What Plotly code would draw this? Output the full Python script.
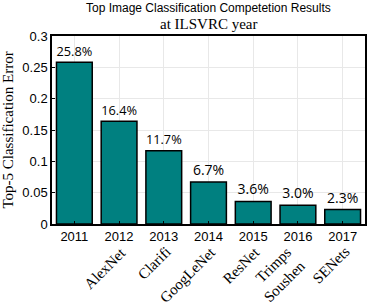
import plotly.graph_objects as go

years = ["2011", "2012", "2013", "2014", "2015", "2016", "2017"]
models = ["", "AlexNet", "Clarifi", "GoogLeNet", "ResNet", "Trimps<br>Soushen", "SENets"]
errors = [0.258, 0.164, 0.117, 0.067, 0.036, 0.030, 0.023]
labels = ["25.8%", "16.4%", "11.7%", "6.7%", "3.6%", "3.0%", "2.3%"]
yticks = [0, 0.05, 0.1, 0.15, 0.2, 0.25, 0.3]
yticktext = ["0", "0.05", "0.1", "0.15", "0.2", "0.25", "0.3"]

fig = go.Figure()
fig.add_trace(go.Bar(
    x=years, y=errors, text=labels, textposition="outside",
    textfont=dict(family="Open Sans", size=14, color="black"),
    marker=dict(color="#008080", line=dict(color="black", width=1.5)),
    width=0.8, cliponaxis=False,
))

annotations = [
    dict(text="Top Image Classification Competetion Results", x=0.5, y=1, xref="paper", yref="paper",
         yshift=28, showarrow=False, xanchor="center", yanchor="middle",
         font=dict(family="Liberation Sans", size=12, color="black")),
    dict(text="at ILSVRC year", x=0.5, y=1, xref="paper", yref="paper",
         yshift=12, showarrow=False, xanchor="center", yanchor="middle",
         font=dict(family="Liberation Serif", size=15, color="black")),
]
for i, m in enumerate(models):
    if not m:
        continue
    annotations.append(dict(
        text=m, x=i, y=0, xref="x", yref="paper", yshift=-17, xshift=13,
        showarrow=False, textangle=-45, xanchor="right", yanchor="top", align="right",
        font=dict(family="Liberation Serif", size=15, color="black"),
    ))

fig.update_layout(
    width=374, height=305,
    margin=dict(l=49, r=7, t=36, b=81),
    paper_bgcolor="white", plot_bgcolor="white",
    showlegend=False,
    annotations=annotations,
    xaxis=dict(
        type="category", range=[-0.5, 6.5],
        showgrid=True, gridcolor="#e8e8e8", gridwidth=1,
        showline=True, linecolor="black", linewidth=1.5, mirror=True,
        ticks="inside", ticklen=3, tickcolor="black",
        tickfont=dict(family="Liberation Sans", size=13, color="black"),
    ),
    yaxis=dict(
        range=[0, 0.3], tickvals=yticks, ticktext=yticktext,
        showgrid=True, gridcolor="#e8e8e8", gridwidth=1, zeroline=False,
        showline=True, linecolor="black", linewidth=1.5, mirror=True,
        ticks="inside", ticklen=3, tickcolor="black",
        tickfont=dict(family="Liberation Sans", size=13, color="black"),
        title=dict(text="Top-5 Classification Error", standoff=5,
                   font=dict(family="Liberation Serif", size=15, color="black")),
    ),
)

fig.write_html("out.html", config={"displayModeBar": False},
               post_script="document.body.style.margin='0';")
